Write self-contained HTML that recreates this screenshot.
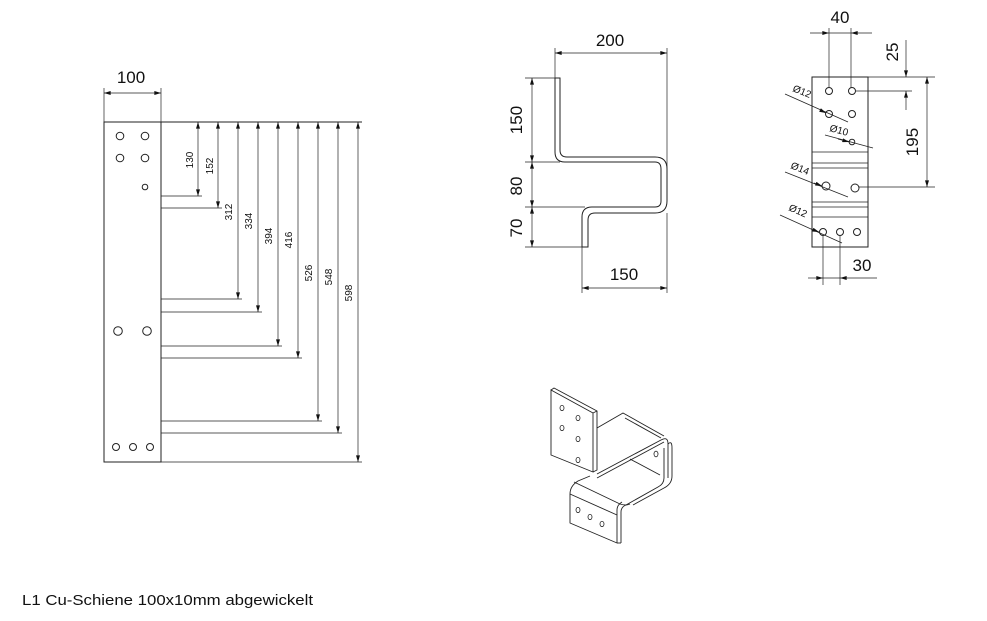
<!DOCTYPE html>
<html><head><meta charset="utf-8"><style>
html,body{margin:0;padding:0;background:#fff;}
svg{display:block;}
text{font-family:"Liberation Sans",sans-serif;fill:#111;}
</style></head><body>
<svg width="987" height="621" viewBox="0 0 987 621" xmlns="http://www.w3.org/2000/svg">
<defs>
<marker id="a" viewBox="0 0 10 6" refX="10" refY="3" markerWidth="7" markerHeight="4" orient="auto-start-reverse" markerUnits="userSpaceOnUse"><path d="M0,0 L10,3 L0,6z" fill="#111"/></marker>
</defs>
<g stroke="#222" stroke-width="1" fill="none">
<!-- Left flat view -->
<rect x="104" y="122" width="57" height="340"/>
<line x1="161" y1="122" x2="362" y2="122"/>
<line x1="104" y1="88" x2="104" y2="122" stroke-width="0.7"/>
<line x1="161" y1="88" x2="161" y2="122" stroke-width="0.7"/>
<line x1="104" y1="93" x2="161" y2="93" marker-start="url(#a)" marker-end="url(#a)" stroke-width="0.7"/>
<g stroke-width="0.7">
<line x1="198" y1="122" x2="198" y2="196" marker-start="url(#a)" marker-end="url(#a)"/>
<line x1="161" y1="196" x2="202" y2="196"/>
<line x1="218" y1="122" x2="218" y2="208" marker-start="url(#a)" marker-end="url(#a)"/>
<line x1="161" y1="208" x2="222" y2="208"/>
<line x1="238" y1="122" x2="238" y2="299" marker-start="url(#a)" marker-end="url(#a)"/>
<line x1="161" y1="299" x2="242" y2="299"/>
<line x1="258" y1="122" x2="258" y2="312" marker-start="url(#a)" marker-end="url(#a)"/>
<line x1="161" y1="312" x2="262" y2="312"/>
<line x1="278" y1="122" x2="278" y2="346" marker-start="url(#a)" marker-end="url(#a)"/>
<line x1="161" y1="346" x2="282" y2="346"/>
<line x1="298" y1="122" x2="298" y2="358" marker-start="url(#a)" marker-end="url(#a)"/>
<line x1="161" y1="358" x2="302" y2="358"/>
<line x1="318" y1="122" x2="318" y2="421" marker-start="url(#a)" marker-end="url(#a)"/>
<line x1="161" y1="421" x2="322" y2="421"/>
<line x1="338" y1="122" x2="338" y2="433" marker-start="url(#a)" marker-end="url(#a)"/>
<line x1="161" y1="433" x2="342" y2="433"/>
<line x1="358" y1="122" x2="358" y2="462" marker-start="url(#a)" marker-end="url(#a)"/>
<line x1="161" y1="462" x2="362" y2="462"/>
</g>
<circle cx="120" cy="136" r="3.8"/><circle cx="145" cy="136" r="3.8"/>
<circle cx="120" cy="158" r="3.8"/><circle cx="145" cy="158" r="3.8"/>
<circle cx="145" cy="187" r="2.8"/>
<circle cx="118" cy="331" r="4.3"/><circle cx="147" cy="331" r="4.3"/>
<circle cx="116" cy="447" r="3.5"/><circle cx="133" cy="447" r="3.5"/><circle cx="150" cy="447" r="3.5"/>

<!-- Side view -->
<path d="M555,78 L560,78 L560,150 Q560,157 567,157 L655,157 Q667,157 667,169 L667,201 Q667,213 655,213 L595,213 Q588,213 588,220 L588,247 L582,247 L582,217 Q582,207 592,207 L655,207 Q661,207 661,201 L661,169 Q661,162 655,162 L565,162 Q555,162 555,152 Z" stroke-width="1"/>
<line x1="564" y1="160" x2="564" y2="160"/>
<g stroke-width="0.7">
<line x1="555" y1="48" x2="555" y2="78"/>
<line x1="667" y1="48" x2="667" y2="200"/>
<line x1="555" y1="53" x2="667" y2="53" marker-start="url(#a)" marker-end="url(#a)"/>
<line x1="525" y1="78" x2="555" y2="78"/>
<line x1="525" y1="162" x2="560" y2="162"/>
<line x1="525" y1="207" x2="585" y2="207"/>
<line x1="525" y1="247" x2="585" y2="247"/>
<line x1="532" y1="78" x2="532" y2="162" marker-start="url(#a)" marker-end="url(#a)"/>
<line x1="532" y1="162" x2="532" y2="207" marker-start="url(#a)" marker-end="url(#a)"/>
<line x1="532" y1="207" x2="532" y2="247" marker-start="url(#a)" marker-end="url(#a)"/>
<line x1="582" y1="247" x2="582" y2="293"/>
<line x1="667" y1="213" x2="667" y2="293"/>
<line x1="582" y1="288" x2="667" y2="288" marker-start="url(#a)" marker-end="url(#a)"/>
</g>

<!-- Right view -->
<rect x="812" y="77" width="56" height="170"/>
<g stroke-width="0.7">
<line x1="812" y1="152" x2="868" y2="152"/><line x1="812" y1="163" x2="868" y2="163"/><line x1="812" y1="168" x2="868" y2="168"/>
<line x1="812" y1="202" x2="868" y2="202"/><line x1="812" y1="207" x2="868" y2="207"/><line x1="812" y1="217" x2="868" y2="217"/>
<line x1="829" y1="28" x2="829" y2="88"/><line x1="851" y1="28" x2="851" y2="88"/>
<line x1="810" y1="33" x2="829" y2="33" marker-end="url(#a)"/>
<line x1="872" y1="33" x2="851" y2="33" marker-end="url(#a)"/>
<line x1="829" y1="33" x2="851" y2="33"/>
<line x1="868" y1="77" x2="935" y2="77"/>
<line x1="856" y1="91" x2="912" y2="91"/>
<line x1="859" y1="187" x2="935" y2="187"/>
<line x1="906" y1="40" x2="906" y2="77" marker-end="url(#a)"/>
<line x1="906" y1="110" x2="906" y2="91" marker-end="url(#a)"/>
<line x1="927" y1="77" x2="927" y2="187" marker-start="url(#a)" marker-end="url(#a)"/>
<line x1="823" y1="236" x2="823" y2="285"/><line x1="840" y1="236" x2="840" y2="285"/>
<line x1="808" y1="278" x2="823" y2="278" marker-end="url(#a)"/>
<line x1="877" y1="278" x2="840" y2="278" marker-end="url(#a)"/>
<line x1="823" y1="278" x2="840" y2="278"/>
<line x1="785" y1="94" x2="848" y2="122"/>
<line x1="820" y1="110" x2="826" y2="113" marker-end="url(#a)"/>
<line x1="825" y1="135" x2="873" y2="148"/>
<line x1="838" y1="139" x2="849" y2="142" marker-end="url(#a)"/>
<line x1="785" y1="172" x2="848" y2="197"/>
<line x1="814" y1="183" x2="822" y2="186" marker-end="url(#a)"/>
<line x1="780" y1="215" x2="842" y2="243"/>
<line x1="811" y1="229" x2="819" y2="232" marker-end="url(#a)"/>
</g>
<circle cx="829" cy="91" r="3.5"/><circle cx="852" cy="91" r="3.5"/>
<circle cx="829" cy="114" r="3.5"/><circle cx="852" cy="114" r="3.5"/>
<circle cx="852" cy="142" r="2.8"/>
<circle cx="826" cy="186" r="4"/><circle cx="855" cy="188" r="4"/>
<circle cx="823" cy="232" r="3.5"/><circle cx="840" cy="232" r="3.5"/><circle cx="857" cy="232" r="3.5"/>

<!-- Iso view -->
<g stroke-width="0.9">
<path d="M551,390 L593,413 L593,472 L551,455 Z"/>
<path d="M551,390 L554,388 L597,411 L597,470 L593,472"/>
<line x1="593" y1="413" x2="597" y2="411"/>
<path d="M597,428 L623,413 L664,436"/>
<path d="M597,474 L661,440 Q668,436 668,444 L668,478"/>
<path d="M597,478 L664,442"/>
<path d="M625,418 L661,438"/>
<path d="M668,444 Q672,440 672,448 L672,476 Q672,484 664,488 L633,505"/>
<path d="M664,448 L664,478 Q664,484 658,487 L626,505"/>
<path d="M630,459 L660,475"/>
<path d="M590,476 L578,481 Q570,486 570,494 L570,523 L617,543 L617,510 Q617,505 622,502"/>
<path d="M574,482 L620,504 Q626,506 630,504"/>
<path d="M570,494 L617,515"/>
<path d="M621,543 L621,512 Q621,507 626,505"/>
<line x1="617" y1="543" x2="621" y2="543"/>
</g>
<g stroke-width="0.8">
<ellipse cx="562" cy="408" rx="2" ry="2.6"/><ellipse cx="578" cy="418" rx="2" ry="2.6"/>
<ellipse cx="562" cy="428" rx="2" ry="2.6"/><ellipse cx="578" cy="439" rx="2" ry="2.6"/>
<ellipse cx="578" cy="460" rx="2" ry="2.6"/>
<ellipse cx="656" cy="454" rx="2" ry="2.8"/>
<ellipse cx="578" cy="510" rx="2" ry="2.6"/><ellipse cx="590" cy="517" rx="2" ry="2.6"/><ellipse cx="602" cy="524" rx="2" ry="2.6"/>
</g>
</g>

<!-- Texts -->
<g font-size="16">
<text x="131" y="83" text-anchor="middle" font-size="17">100</text>
<text x="610" y="46" text-anchor="middle" font-size="17">200</text>
<text x="624" y="280" text-anchor="middle" font-size="17">150</text>
<text x="840" y="23" text-anchor="middle" font-size="17">40</text>
<text x="862" y="271" text-anchor="middle" font-size="17">30</text>
<text transform="translate(522,120) rotate(-90)" text-anchor="middle" font-size="17">150</text>
<text transform="translate(522,186) rotate(-90)" text-anchor="middle" font-size="17">80</text>
<text transform="translate(522,228) rotate(-90)" text-anchor="middle" font-size="17">70</text>
<text transform="translate(898,52) rotate(-90)" text-anchor="middle" font-size="17">25</text>
<text transform="translate(918,142) rotate(-90)" text-anchor="middle" font-size="17">195</text>
</g>
<g font-size="10">
<text transform="translate(193,160) rotate(-90)" text-anchor="middle">130</text>
<text transform="translate(213,166) rotate(-90)" text-anchor="middle">152</text>
<text transform="translate(232,212) rotate(-90)" text-anchor="middle">312</text>
<text transform="translate(252,221) rotate(-90)" text-anchor="middle">334</text>
<text transform="translate(272,236) rotate(-90)" text-anchor="middle">394</text>
<text transform="translate(292,240) rotate(-90)" text-anchor="middle">416</text>
<text transform="translate(312,273) rotate(-90)" text-anchor="middle">526</text>
<text transform="translate(332,277) rotate(-90)" text-anchor="middle">548</text>
<text transform="translate(352,293) rotate(-90)" text-anchor="middle">598</text>
<text transform="translate(792,91) rotate(22)">Ø12</text>
<text transform="translate(829,131) rotate(15)">Ø10</text>
<text transform="translate(790,168) rotate(22)">Ø14</text>
<text transform="translate(788,210) rotate(24)">Ø12</text>
</g>
<text x="22" y="605" font-size="15" textLength="291" lengthAdjust="spacingAndGlyphs">L1 Cu-Schiene 100x10mm abgewickelt</text>
</svg>
</body></html>
